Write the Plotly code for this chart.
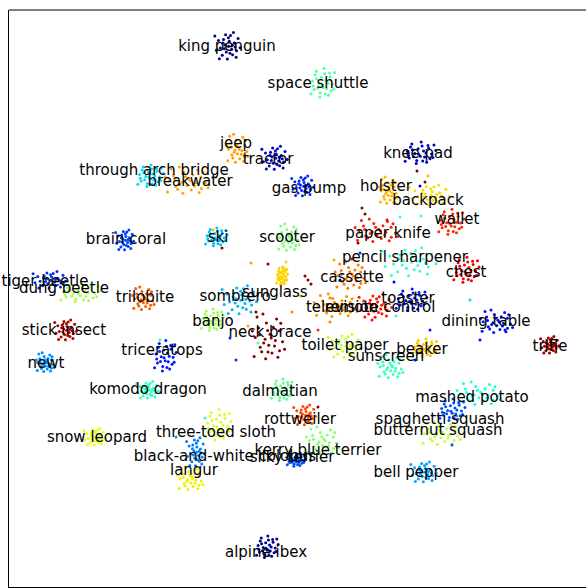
import plotly.graph_objects as go

# ---- data (2-D embedding coordinates, one row per class) ----
labels = ["king penguin", "space shuttle", "jeep", "tractor", "through arch bridge", "breakwater",
          "gas pump", "knee pad", "holster", "backpack", "wallet", "paper knife", "brain coral",
          "ski", "scooter", "pencil sharpener", "chest", "cassette", "tiger beetle", "dung beetle",
          "trilobite", "sombrero", "sunglass", "television", "remote control", "toaster",
          "dining table", "stick insect", "banjo", "neck brace", "toilet paper", "beaker",
          "sunscreen", "trifle", "triceratops", "newt", "komodo dragon", "dalmatian",
          "mashed potato", "rottweiler", "spaghetti squash", "butternut squash", "snow leopard",
          "three-toed sloth", "kerry blue terrier", "black-and-white colobus", "silky terrier",
          "langur", "bell pepper", "alpine ibex"]
label_x = [227, 318, 236, 268, 154, 190, 309, 418, 386, 428, 457, 388, 126, 218, 287, 405, 466, 352,
           45, 64, 145, 235, 275, 342, 380, 408, 486, 64, 213, 270, 345, 422, 386, 550, 162, 46, 148,
           280, 472, 300, 440, 438, 97, 216, 318, 225, 292, 194, 416, 266]
label_y = [47, 84, 144, 160, 171, 182, 189, 154, 187, 201, 220, 234, 240, 238, 238, 258, 273, 278,
           282, 289, 298, 297, 293, 308, 308, 299, 322, 331, 322, 333, 346, 350, 357, 347, 351, 364,
           390, 392, 398, 420, 420, 431, 438, 433, 451, 457, 458, 471, 473, 553]
cluster_x = [228, 323, 237, 275, 150, 186, 303, 420, 388, 430, 451, 376, 125, 216, 288, 410, 466, 350,
             50, 80, 143, 240, 282, 335, 376, 411, 496, 66, 212, 268, 345, 425, 390, 550, 165, 45, 148,
             282, 478, 305, 452, 440, 95, 218, 322, 196, 296, 190, 424, 267]
cluster_y = [46, 83, 148, 158, 176, 180, 186, 153, 190, 195, 222, 230, 240, 237, 237, 262, 270, 275,
             280, 293, 298, 300, 276, 305, 306, 300, 321, 330, 320, 336, 346, 348, 366, 345, 356, 362,
             390, 390, 393, 415, 410, 433, 437, 425, 440, 452, 460, 478, 472, 547]
spread_x = [14, 14, 12, 14, 14, 24, 12, 17, 10, 22, 14, 24, 10, 12, 12, 30, 14, 17, 18, 22, 12, 19, 6,
            24, 18, 17, 18, 12, 12, 18, 18, 14, 14, 10, 12, 10, 12, 12, 24, 12, 14, 22, 12, 14, 18, 10,
            10, 14, 14, 12]
spread_y = [16, 16, 15, 14, 12, 14, 12, 12, 14, 12, 14, 12, 12, 10, 14, 17, 14, 14, 10, 10, 12, 17, 10,
            12, 14, 12, 12, 12, 12, 24, 14, 10, 12, 10, 17, 10, 10, 12, 12, 12, 12, 12, 10, 17, 14, 17,
            7, 12, 12, 12]
colors = ["#00008b", "#50ffa6", "#ffa000", "#0000cd", "#00d8ff", "#ffa500", "#0028ff", "#0000c0",
          "#ffb800", "#ffd800", "#ff2800", "#ff1c00", "#0040ff", "#00c0ff", "#7dff7a", "#30ffc7",
          "#f00000", "#ff7b00", "#0030f0", "#a8ff4f", "#ff5a00", "#00b4ff", "#ffd400", "#ff9400",
          "#ff1400", "#0014ff", "#0010ff", "#b40000", "#a0ff56", "#7f0000", "#c4ff33", "#ffc400",
          "#3dffba", "#a00000", "#0018ff", "#0090ff", "#36ffc1", "#63ff94", "#1cffdb", "#ff4a00",
          "#0050ff", "#bdff3a", "#e8ff10", "#d8ff20", "#86ff71", "#0080ff", "#0050ff", "#f0f000",
          "#00a4ff", "#000096"]

# shapes of the point clouds (relative offsets, read from typical clusters)
shape_a_dx = [0.05, -0.32, 0.44, -0.12, 0.61, -0.55, 0.18, -0.21, 0.33, -0.68, 0.72, -0.05, 0.09, -0.41,
              0.52, -0.83, 0.26, -0.17, 0.87, -0.36, 0.14, 0.39, -0.62, 0.58, -0.94, 0.03, -0.26, 0.31]
shape_a_dy = [0.02, -0.41, -0.18, 0.37, 0.29, 0.12, -0.66, -0.08, 0.55, -0.35, -0.47, 0.81, -0.29, 0.58,
              0.06, 0.27, 0.21, -0.71, 0.11, -0.19, 0.46, -0.84, 0.79, 0.71, -0.62, -0.52, 0.17, -0.05]
shape_b_dx = [-0.08, 0.27, -0.45, 0.51, -0.19, 0.68, -0.63, 0.12, -0.31, 0.39, -0.74, 0.82, 0.02, -0.48,
              0.21, -0.11, 0.59, -0.87, 0.35, -0.22, 0.76, -0.56, 0.16, 0.93, -0.38, 0.07, -0.69, 0.47]
shape_b_dy = [0.11, 0.34, -0.27, -0.39, 0.62, 0.08, 0.41, -0.58, 0.05, 0.77, -0.12, -0.66, 0.28, -0.74,
              -0.17, -0.36, 0.48, 0.69, 0.01, 0.88, 0.37, -0.51, 0.67, -0.21, 0.32, -0.91, 0.18, -0.62]
shape_c_dx = [0.11, -0.24, 0.36, -0.52, 0.63, -0.09, 0.22, -0.71, 0.48, -0.35, 0.81, -0.16, 0.04, -0.61,
              0.29, -0.87, 0.55, -0.43, 0.71, -0.02, 0.18, -0.28, 0.92, -0.77, 0.41, -0.13, 0.64, -0.47]
shape_c_dy = [-0.07, 0.29, 0.42, -0.33, -0.22, -0.54, 0.71, 0.06, -0.71, 0.66, 0.24, 0.14, 0.39, -0.79,
              -0.36, -0.21, 0.89, 0.47, -0.53, -0.23, 0.08, -0.92, 0.55, 0.85, 0.19, 0.95, 0.61, -0.05]

# stray points scattered between clusters
stray_x = [213, 222, 251, 268, 282, 284, 281, 286, 305, 308, 311, 334, 340, 360, 394, 387, 400, 421,
           358, 352, 230, 268, 318, 417, 425, 420, 428, 362, 365, 300, 330, 256, 248, 292, 372, 430,
           470, 480, 505, 452, 415, 396, 236, 258, 318, 160, 330, 205, 176, 345]
stray_y = [230, 248, 263, 264, 272, 268, 284, 262, 276, 280, 284, 260, 280, 253, 282, 220, 217, 216,
           243, 259, 338, 352, 330, 171, 182, 186, 176, 208, 214, 296, 298, 312, 326, 312, 320, 330,
           300, 340, 330, 445, 360, 316, 360, 343, 407, 340, 322, 418, 437, 312]
stray_c = ["#ffc000", "#800000", "#ffa500", "#800000", "#ffd000", "#ffd000", "#ffd000", "#ffd000",
           "#800000", "#800000", "#800000", "#ffa500", "#0000ff", "#0030ff", "#0000ff", "#ff0000",
           "#40ffc0", "#40ffc0", "#800000", "#ff0000", "#0030ff", "#800000", "#ff3000", "#800000",
           "#800000", "#0000cd", "#ffb800", "#800000", "#800000", "#c4ff33", "#ff7b00", "#800000",
           "#ffa500", "#ff9400", "#ff1400", "#0014ff", "#00d8ff", "#0010ff", "#0010ff", "#0050ff",
           "#0014ff", "#1cffdb", "#0030ff", "#36ffc1", "#800000", "#36ffc1", "#ff7b00", "#36ffc1",
           "#0090ff", "#a8ff4f"]

shapes = [(shape_a_dx, shape_a_dy), (shape_b_dx, shape_b_dy), (shape_c_dx, shape_c_dy)]

fig = go.Figure()
for i, name in enumerate(labels):
    sdx, sdy = shapes[i % 3]
    xs = [cluster_x[i] + d * spread_x[i] for d in sdx]
    ys = [cluster_y[i] + d * spread_y[i] for d in sdy]
    fig.add_trace(go.Scatter(x=xs, y=ys, mode="markers", name=name,
                             marker=dict(size=3, color=colors[i], line=dict(width=0)),
                             hoverinfo="skip", showlegend=False))

fig.add_trace(go.Scatter(x=stray_x, y=stray_y, mode="markers",
                         marker=dict(size=3, color=stray_c, line=dict(width=0)),
                         hoverinfo="skip", showlegend=False))

fig.add_trace(go.Scatter(x=label_x, y=label_y, mode="text", text=labels,
                         textposition="middle center", cliponaxis=False,
                         textfont=dict(family="DejaVu Sans", size=15, color="black"),
                         hoverinfo="skip", showlegend=False))

fig.update_layout(
    width=586, height=588,
    margin=dict(l=9, r=0, t=10, b=1),
    paper_bgcolor="white", plot_bgcolor="white",
    xaxis=dict(range=[9, 586], showgrid=False, zeroline=False, showticklabels=False, ticks="",
               showline=True, linecolor="black", linewidth=1),
    yaxis=dict(range=[587, 10], showgrid=False, zeroline=False, showticklabels=False, ticks="",
               showline=True, linecolor="black", linewidth=1),
    shapes=[dict(type="line", xref="paper", yref="paper", x0=0, x1=1, y0=1, y1=1,
                 line=dict(color="black", width=1))],
)

fig.write_html("out.html")
